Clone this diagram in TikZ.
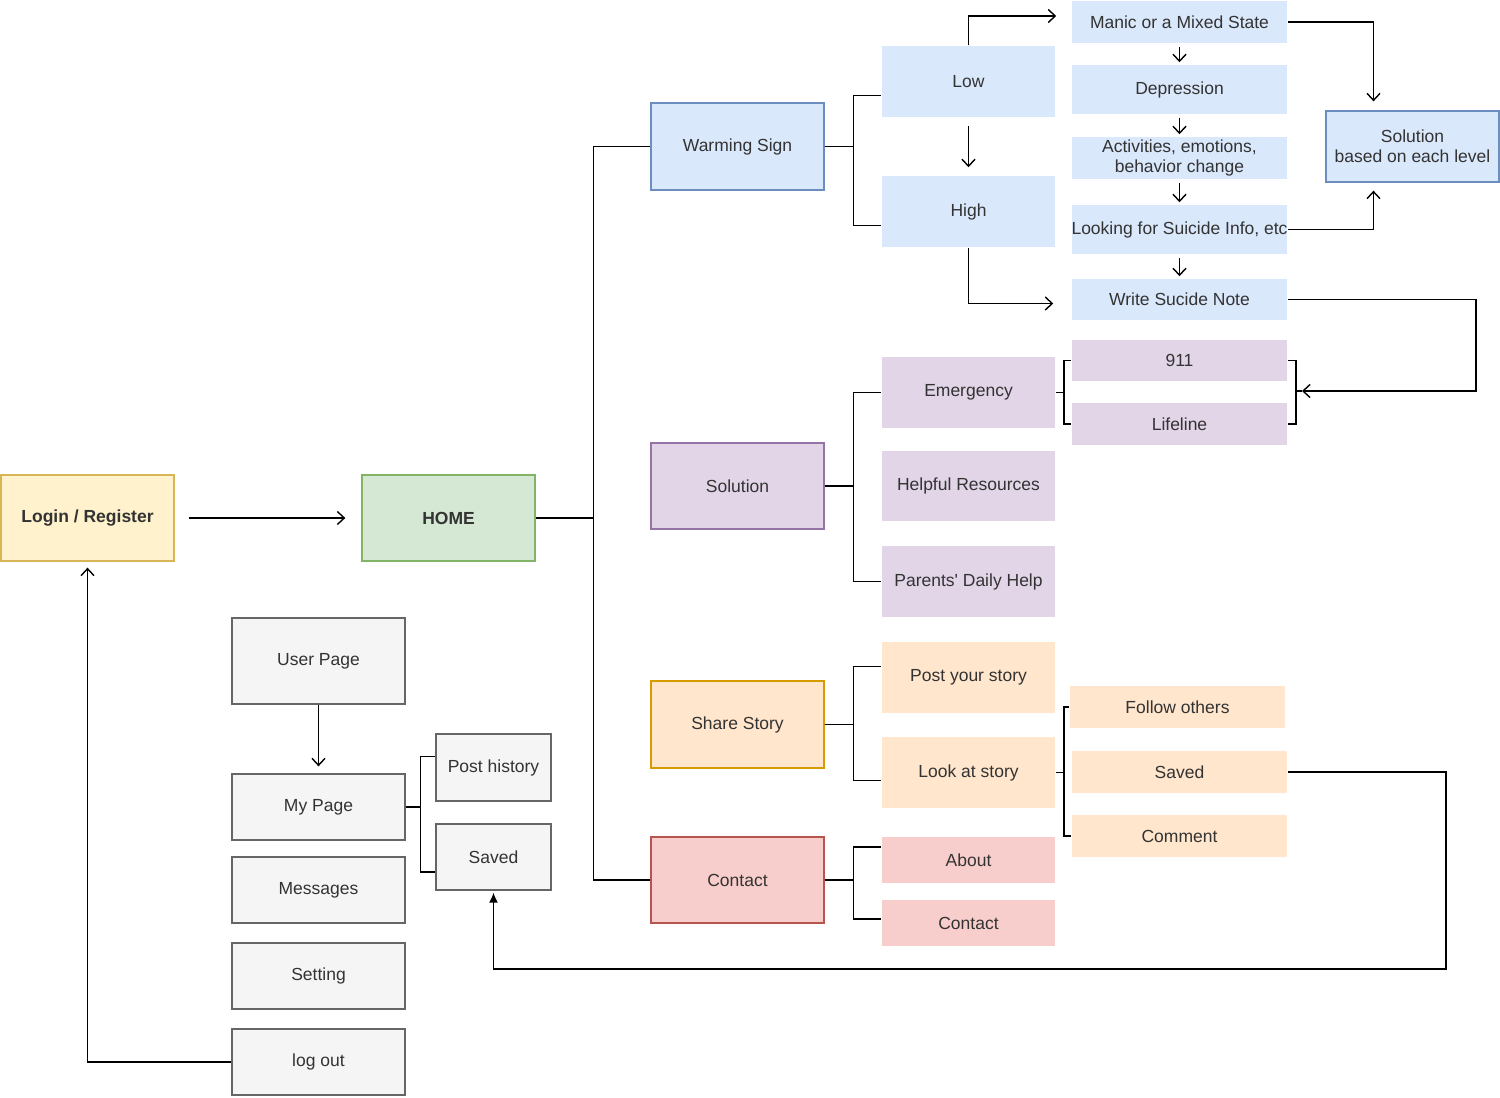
\documentclass[tikz,border=0pt]{standalone}
\usepackage{fontspec}
\setmainfont{Liberation Sans}
\usetikzlibrary{arrows.meta}

\definecolor{txt}{HTML}{333333}
\definecolor{blueF}{HTML}{DAE8FC}
\definecolor{blueD}{HTML}{6C8EBF}
\definecolor{greenF}{HTML}{D5E8D4}
\definecolor{greenD}{HTML}{82B366}
\definecolor{yellowF}{HTML}{FFF2CC}
\definecolor{yellowD}{HTML}{D6B656}
\definecolor{purpleF}{HTML}{E1D5E7}
\definecolor{purpleD}{HTML}{9673A6}
\definecolor{orangeF}{HTML}{FFE6CC}
\definecolor{orangeD}{HTML}{D79B00}
\definecolor{redF}{HTML}{F8CECC}
\definecolor{redD}{HTML}{B85450}
\definecolor{greyF}{HTML}{F5F5F5}
\definecolor{greyD}{HTML}{666666}

\begin{document}
\begin{tikzpicture}[x=1pt,y=-1pt,line width=1.5pt,
  >={Straight Barb[length=7pt,width=13pt,line width=1.4pt]},
  font=\fontsize{17.5}{20}\selectfont]
\tikzstyle{box}=[rectangle,inner sep=0pt,text=txt,align=center,minimum width=173pt,minimum height=86pt]
\tikzstyle{wide}=[box,minimum width=215pt]
\tikzstyle{warn}=[box,fill=blueF]
\tikzstyle{sol}=[box,fill=purpleF]
\tikzstyle{story}=[box,fill=orangeF]
\tikzstyle{cont}=[box,fill=redF]
\tikzstyle{user}=[box,fill=greyF,draw=greyD,line width=1.3pt]
\tikzstyle{chain}=[->,shorten <=3pt,shorten >=2pt]

\useasboundingbox (0,0) rectangle (1500,1098);

\node[box,fill=yellowF,draw=yellowD,line width=1.3pt,font=\fontsize{17.5}{20}\selectfont\bfseries] (login) at (87.5,518) {Login / Register};
\node[box,fill=greenF,draw=greenD,line width=1.3pt,font=\fontsize{17.5}{20}\selectfont\bfseries] (home) at (448.5,518) {HOME};
\draw[->] ([xshift=14pt]login.east) -- ([xshift=-16pt]home.west);

\node[warn,draw=blueD,line width=1.3pt,minimum height=87pt] (warmSign) at (737.5,146.5) {Warming Sign};
\node[sol,draw=purpleD,line width=1.3pt] (solution) at (737.5,486) {Solution};
\node[story,draw=orangeD,line width=1.3pt,minimum height=87pt] (share) at (737.5,724.5) {Share Story};
\node[cont,draw=redD,line width=1.3pt] (contact) at (737.5,880) {Contact};
\draw (home.east) -- ++(58,0) |- (warmSign.west);
\draw (home.east) -- ++(58,0) |- (contact.west);

\node[warn,minimum height=71pt] (low)  at (968.5,81.5) {Low};
\node[warn,minimum height=71pt] (high) at (968.5,211.5) {High};
\draw (warmSign.east) -- ++(29,0) |- ([yshift=-14pt]low.west);
\draw (warmSign.east) -- ++(29,0) |- ([yshift=-14pt]high.west);
\draw[->] ([yshift=-8pt]low.south) -- ([yshift=8pt]high.north);

\node[warn,wide,minimum height=42pt] (manic) at (1179.5,22) {Manic or a Mixed State};
\node[warn,wide,minimum height=49pt] (depr)  at (1179.5,89.5) {Depression};
\node[warn,wide,minimum height=42pt] (activ) at (1179.5,158) {Activities, emotions,\\behavior change};
\node[warn,wide,minimum height=49pt] (look)  at (1179.5,229.5) {Looking for Suicide Info, etc};
\node[warn,wide,minimum height=41pt] (write) at (1179.5,299.5) {Write Sucide Note};
\draw[chain] (manic) -- (depr);
\draw[chain] (depr) -- (activ);
\draw[chain] (activ) -- (look);
\draw[chain] (look) -- (write);
\draw[->] (low.north) |- ([shift={(-15pt,6pt)}]manic.west);
\draw[->] (high.south) |- ([shift={(-18pt,-4pt)}]write.west);

\node[warn,draw=blueD,line width=1.3pt,minimum height=71pt] (solLevel) at (1412.5,146.5) {Solution\\based on each level};
\draw[->] (manic.east) -| ([shift={(-39pt,9pt)}]solLevel.north);
\draw[->] (look.east) -| ([shift={(-39pt,-8pt)}]solLevel.south);

\node[sol,minimum height=71pt] (emerg)   at (968.5,392.5) {Emergency};
\node[sol,minimum height=70pt] (helpful) at (968.5,486) {Helpful Resources};
\node[sol,minimum height=71pt] (parents) at (968.5,581.5) {Parents\textquotesingle\ Daily Help};
\draw (solution.east) -- ++(29,0) |- (emerg.west);
\draw (solution.east) -- ++(29,0) |- (parents.west);

\node[sol,wide,minimum height=41pt] (n911)     at (1179.5,360.5) {911};
\node[sol,wide,minimum height=42pt] (lifeline) at (1179.5,424) {Lifeline};
\draw (emerg.east) -- ++(8,0) |- (n911.west);
\draw (emerg.east) -- ++(8,0) |- (lifeline.west);
\coordinate (brkR) at (1295,391);
\draw (n911.east) -- ++(8,0) |- (lifeline.east);
\draw (brkR) -- ++(7,0);
\draw[->] (write.east) -- ++(188,0) |- ([xshift=7pt]brkR);

\node[story,minimum height=71pt] (post)      at (968.5,677.5) {Post your story};
\node[story,minimum height=71pt] (lookStory) at (968.5,772.5) {Look at story};
\draw (share.east) -- ++(29,0) |- ([yshift=11pt]post.west);
\draw (share.east) -- ++(29,0) |- ([yshift=-8pt]lookStory.west);

\node[story,wide,minimum height=42pt] (follow)  at (1177.5,707) {Follow others};
\node[story,wide,minimum height=42pt] (savedO)  at (1179.5,772) {Saved};
\node[story,wide,minimum height=42pt] (comment) at (1179.5,836) {Comment};
\draw (lookStory.east) -- ++(8,0) |- (follow.west);
\draw (lookStory.east) -- ++(8,0) |- (comment.west);

\node[cont,minimum height=46pt] (about)     at (968.5,860) {About};
\node[cont,minimum height=46pt] (contactUs) at (968.5,923) {Contact};
\draw (contact.east) -- ++(29,0) |- ([yshift=13pt]about.west);
\draw (contact.east) -- ++(29,0) |- ([yshift=4pt]contactUs.west);

\node[user] (userPage) at (318.5,661) {User Page};
\node[user,minimum height=66pt] (myPage)   at (318.5,807) {My Page};
\node[user,minimum height=66pt] (messages) at (318.5,890) {Messages};
\node[user,minimum height=66pt] (setting)  at (318.5,976) {Setting};
\node[user,minimum height=66pt] (logout)   at (318.5,1062) {log out};
\draw[->] (userPage.south) -- ([yshift=7pt]myPage.north);

\node[user,minimum width=115pt,minimum height=67pt] (postHist) at (493.5,767.5) {Post history};
\node[user,minimum width=115pt,minimum height=66pt] (savedG)   at (493.5,857) {Saved};
\draw (myPage.east) -- ++(15,0) |- ([yshift=11pt]postHist.west);
\draw (myPage.east) -- ++(15,0) |- ([yshift=-15pt]savedG.west);

\draw[-{Latex[length=10pt,width=9pt]}] (savedO.east) -- ++(158,0) -- ++(0,197) -| ([yshift=-2pt]savedG.south);
\draw[->] (logout.west) -| ([yshift=-6pt]login.south);

\end{tikzpicture}
\end{document}
